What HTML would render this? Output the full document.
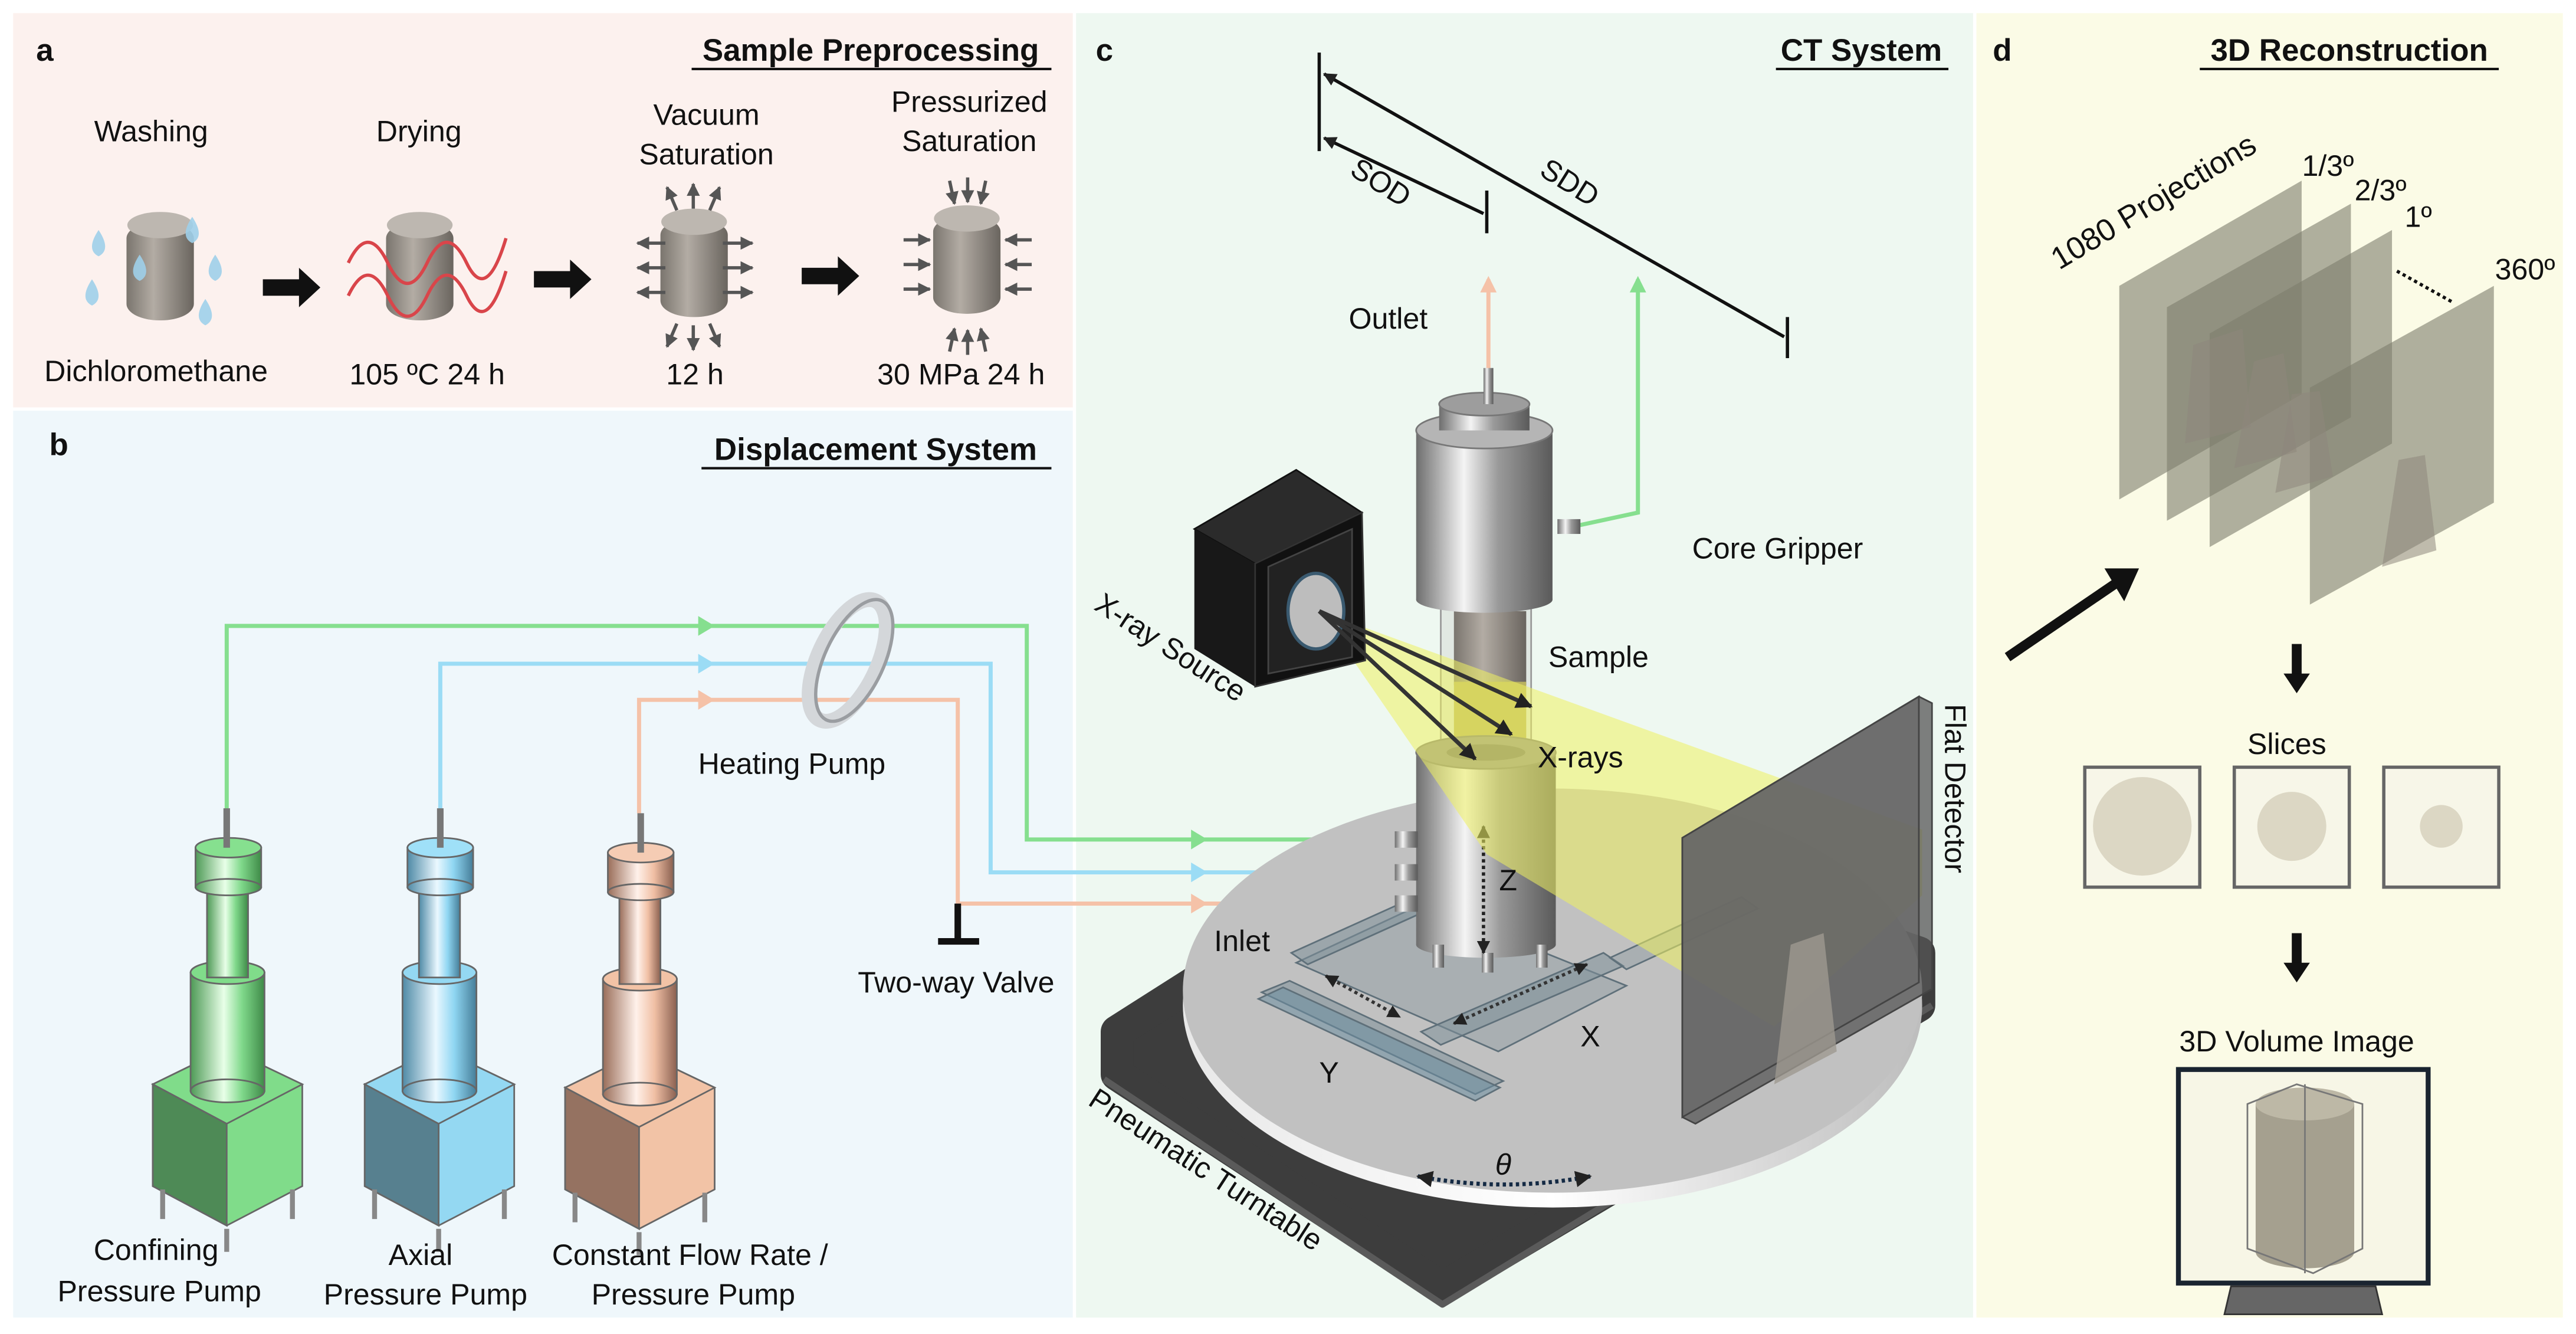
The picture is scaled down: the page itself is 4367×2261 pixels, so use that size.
<!DOCTYPE html>
<html><head><meta charset="utf-8"><style>
html,body{margin:0;padding:0;background:#fff;}
svg{display:block;}
text{font-family:"Liberation Sans",sans-serif;fill:#111;}
</style></head><body>
<svg width="4367" height="2261" viewBox="0 0 1568 812" preserveAspectRatio="none" xmlns="http://www.w3.org/2000/svg">
<defs>
<linearGradient id="metal" x1="0" x2="1"><stop offset="0" stop-color="#6e6e6e"/><stop offset=".35" stop-color="#f4f4f4"/><stop offset=".6" stop-color="#9a9a9a"/><stop offset="1" stop-color="#5a5a5a"/></linearGradient>
<linearGradient id="rock" x1="0" x2="1"><stop offset="0" stop-color="#7a756e"/><stop offset=".4" stop-color="#b3aca4"/><stop offset="1" stop-color="#6a655f"/></linearGradient>
<linearGradient id="gG" x1="0" x2="1"><stop offset="0" stop-color="#4e9a56"/><stop offset=".45" stop-color="#e8ffe8"/><stop offset=".7" stop-color="#7fd88a"/><stop offset="1" stop-color="#3f8a48"/></linearGradient>
<linearGradient id="gB" x1="0" x2="1"><stop offset="0" stop-color="#4f8aa6"/><stop offset=".45" stop-color="#eaf8ff"/><stop offset=".7" stop-color="#8fd6f2"/><stop offset="1" stop-color="#457d98"/></linearGradient>
<linearGradient id="gO" x1="0" x2="1"><stop offset="0" stop-color="#9a6e5a"/><stop offset=".45" stop-color="#fff1ea"/><stop offset=".7" stop-color="#f0bfa4"/><stop offset="1" stop-color="#8a6050"/></linearGradient>
<linearGradient id="rim" x1="0" x2="1"><stop offset="0" stop-color="#e8e8e8"/><stop offset=".5" stop-color="#ffffff"/><stop offset="1" stop-color="#bdbdbd"/></linearGradient>
<marker id="ah" viewBox="0 0 10 10" refX="9" refY="5" markerWidth="4" markerHeight="4" orient="auto-start-reverse"><path d="M0,0L10,5L0,10z" fill="#222"/></marker>
<marker id="ahg" viewBox="0 0 10 10" refX="9" refY="5" markerWidth="4" markerHeight="4" orient="auto"><path d="M0,0L10,5L0,10z" fill="#555"/></marker>
</defs>

<rect x="8" y="8" width="645" height="240" fill="#fcf1ee"/>
<rect x="8" y="250" width="645" height="552" fill="#eff7fb"/>
<rect x="655" y="8" width="546" height="794" fill="#eef8f1"/>
<rect x="1203" y="8" width="357" height="794" fill="#fbfbe6"/>

<!-- ===== Panel a ===== -->
<text x="22" y="37" font-size="19" font-weight="bold">a</text>
<text x="530" y="37" font-size="19" font-weight="bold" text-anchor="middle">Sample Preprocessing</text>
<line x1="421" y1="42" x2="640" y2="42" stroke="#111" stroke-width="1.5"/>
<g font-size="18" text-anchor="middle">
<text x="92" y="86">Washing</text>
<text x="255" y="86">Drying</text>
<text x="430" y="76">Vacuum</text><text x="430" y="100">Saturation</text>
<text x="590" y="68">Pressurized</text><text x="590" y="92">Saturation</text>
<text x="95" y="232">Dichloromethane</text>
<text x="260" y="234">105 ºC 24 h</text>
<text x="423" y="234">12 h</text>
<text x="585" y="234">30 MPa 24 h</text>
</g>
<g>
<rect x="77" y="135" width="41" height="60" rx="20" ry="10" fill="url(#rock)"/>
<ellipse cx="97.5" cy="137" rx="20" ry="8" fill="#bdb7b0"/>
<rect x="235" y="135" width="41" height="60" rx="20" ry="10" fill="url(#rock)"/>
<ellipse cx="255.5" cy="137" rx="20" ry="8" fill="#bdb7b0"/>
<rect x="402" y="133" width="41" height="60" rx="20" ry="10" fill="url(#rock)"/>
<ellipse cx="422.5" cy="135" rx="20" ry="8" fill="#bdb7b0"/>
<rect x="568" y="131" width="41" height="60" rx="20" ry="10" fill="url(#rock)"/>
<ellipse cx="588.5" cy="133" rx="20" ry="8" fill="#bdb7b0"/>
</g>
<g fill="#9fd0ea" opacity=".9">
<path d="M60,140 q-8,12 0,16 q8,-4 0,-16z"/><path d="M56,170 q-8,12 0,16 q8,-4 0,-16z"/>
<path d="M85,155 q-8,12 0,16 q8,-4 0,-16z"/><path d="M117,132 q-8,12 0,16 q8,-4 0,-16z"/>
<path d="M131,155 q-8,12 0,16 q8,-4 0,-16z"/><path d="M125,182 q-8,12 0,16 q8,-4 0,-16z"/>
</g>
<g fill="none" stroke="#d9454a" stroke-width="2">
<path d="M212,160 q12,-25 24,0 t24,0 t24,0 t24,-15"/>
<path d="M212,180 q12,-25 24,0 t24,0 t24,0 t24,-15"/>
</g>
<g fill="#111">
<path d="M160,170h22v-7l13,12l-13,12v-7h-22z"/>
<path d="M325,165h22v-7l13,12l-13,12v-7h-22z"/>
<path d="M488,163h22v-7l13,12l-13,12v-7h-22z"/>
</g>
<g stroke="#555" stroke-width="2" marker-end="url(#ahg)">
<line x1="405" y1="148" x2="388" y2="148"/><line x1="405" y1="163" x2="388" y2="163"/><line x1="405" y1="178" x2="388" y2="178"/>
<line x1="440" y1="148" x2="458" y2="148"/><line x1="440" y1="163" x2="458" y2="163"/><line x1="440" y1="178" x2="458" y2="178"/>
<line x1="412" y1="128" x2="406" y2="114"/><line x1="422" y1="127" x2="422" y2="112"/><line x1="432" y1="128" x2="438" y2="114"/>
<line x1="412" y1="197" x2="406" y2="211"/><line x1="422" y1="198" x2="422" y2="213"/><line x1="432" y1="197" x2="438" y2="211"/>
<line x1="550" y1="146" x2="566" y2="146"/><line x1="550" y1="161" x2="566" y2="161"/><line x1="550" y1="176" x2="566" y2="176"/>
<line x1="628" y1="146" x2="612" y2="146"/><line x1="628" y1="161" x2="612" y2="161"/><line x1="628" y1="176" x2="612" y2="176"/>
<line x1="578" y1="110" x2="581" y2="124"/><line x1="589" y1="108" x2="589" y2="123"/><line x1="600" y1="110" x2="597" y2="124"/>
<line x1="578" y1="214" x2="581" y2="200"/><line x1="589" y1="216" x2="589" y2="201"/><line x1="600" y1="214" x2="597" y2="200"/>
</g>

<!-- ===== Panel b ===== -->
<text x="30" y="277" font-size="19" font-weight="bold">b</text>
<text x="533" y="280" font-size="19" font-weight="bold" text-anchor="middle">Displacement System</text>
<line x1="427" y1="285" x2="640" y2="285" stroke="#111" stroke-width="1.5"/>

<g fill="none" stroke-width="2.5">
<path d="M138,495V381H625V511H855" stroke="#86df8f"/>
<path d="M268,495V404H603V531H855" stroke="#9bdcf5"/>
<path d="M389,495V426H583V550H855" stroke="#f5c2a8"/>
</g>
<g>
<path d="M425,375l10,6l-10,6z" fill="#86df8f"/><path d="M425,398l10,6l-10,6z" fill="#9bdcf5"/><path d="M425,420l10,6l-10,6z" fill="#f5c2a8"/>
<path d="M725,505l10,6l-10,6z" fill="#86df8f"/><path d="M725,525l10,6l-10,6z" fill="#9bdcf5"/><path d="M725,544l10,6l-10,6z" fill="#f5c2a8"/>
</g>
<ellipse cx="516" cy="402" rx="18" ry="40" transform="rotate(25 516 402)" fill="none" stroke="#d4d7da" stroke-width="9"/>
<ellipse cx="520" cy="402" rx="18" ry="40" transform="rotate(25 520 402)" fill="none" stroke="#9a9da1" stroke-width="2"/>
<text x="482" y="471" font-size="18" text-anchor="middle">Heating Pump</text>
<path d="M583,550V572" stroke="#111" stroke-width="4"/><path d="M571,573H596" stroke="#111" stroke-width="4"/>
<text x="582" y="604" font-size="18" text-anchor="middle">Two-way Valve</text>

<g>
<polygon points="93,660 138,638 184,660 184,722 138,746 93,722" fill="#80dc8a" stroke="#666"/>
<polygon points="93,660 138,684 138,746 93,722" fill="#4e8a56" stroke="#666"/>
<polygon points="93,660 138,638 184,660 138,684" fill="#80dc8a" stroke="#666"/>
<g stroke="#888" stroke-width="3"><line x1="99" y1="724" x2="99" y2="742"/><line x1="178" y1="724" x2="178" y2="742"/><line x1="138" y1="748" x2="138" y2="762"/></g>
<rect x="116" y="592" width="45" height="72" fill="url(#gG)" stroke="#666"/><ellipse cx="138.5" cy="664" rx="22.5" ry="7" fill="url(#gG)" stroke="#666"/><ellipse cx="138.5" cy="592" rx="22.5" ry="7" fill="#80dc8a" stroke="#666"/>
<rect x="126" y="540" width="25" height="55" fill="url(#gG)" stroke="#666"/>
<rect x="119" y="516" width="40" height="24" fill="url(#gG)" stroke="#666"/><ellipse cx="139" cy="540" rx="20" ry="5" fill="url(#gG)" stroke="#666"/><ellipse cx="139" cy="516" rx="20" ry="6" fill="#86e08f" stroke="#666"/>
<rect x="136" y="492" width="4" height="24" fill="#777"/>
</g>
<g>
<polygon points="222,660 267,638 313,660 313,722 267,746 222,722" fill="#94d8f2" stroke="#666"/>
<polygon points="222,660 267,684 267,746 222,722" fill="#57808f" stroke="#666"/>
<polygon points="222,660 267,638 313,660 267,684" fill="#94d8f2" stroke="#666"/>
<g stroke="#888" stroke-width="3"><line x1="228" y1="724" x2="228" y2="742"/><line x1="307" y1="724" x2="307" y2="742"/><line x1="267" y1="748" x2="267" y2="762"/></g>
<rect x="245" y="592" width="45" height="72" fill="url(#gB)" stroke="#666"/><ellipse cx="267.5" cy="664" rx="22.5" ry="7" fill="url(#gB)" stroke="#666"/><ellipse cx="267.5" cy="592" rx="22.5" ry="7" fill="#94d8f2" stroke="#666"/>
<rect x="255" y="540" width="25" height="55" fill="url(#gB)" stroke="#666"/>
<rect x="248" y="516" width="40" height="24" fill="url(#gB)" stroke="#666"/><ellipse cx="268" cy="540" rx="20" ry="5" fill="url(#gB)" stroke="#666"/><ellipse cx="268" cy="516" rx="20" ry="6" fill="#9fe0f8" stroke="#666"/>
<rect x="266" y="492" width="4" height="24" fill="#777"/>
</g>
<g>
<polygon points="344,662 389,640 435,662 435,724 389,748 344,724" fill="#f2c3a6" stroke="#666"/>
<polygon points="344,662 389,686 389,748 344,724" fill="#957261" stroke="#666"/>
<polygon points="344,662 389,640 435,662 389,686" fill="#f2c3a6" stroke="#666"/>
<g stroke="#888" stroke-width="3"><line x1="350" y1="726" x2="350" y2="744"/><line x1="429" y1="726" x2="429" y2="744"/><line x1="389" y1="750" x2="389" y2="764"/></g>
<rect x="367" y="596" width="45" height="70" fill="url(#gO)" stroke="#666"/><ellipse cx="389.5" cy="666" rx="22.5" ry="7" fill="url(#gO)" stroke="#666"/><ellipse cx="389.5" cy="596" rx="22.5" ry="7" fill="#f2c3a6" stroke="#666"/>
<rect x="377" y="543" width="25" height="56" fill="url(#gO)" stroke="#666"/>
<rect x="370" y="519" width="40" height="24" fill="url(#gO)" stroke="#666"/><ellipse cx="390" cy="543" rx="20" ry="5" fill="url(#gO)" stroke="#666"/><ellipse cx="390" cy="519" rx="20" ry="6" fill="#f5ccb4" stroke="#666"/>
<rect x="388" y="495" width="4" height="24" fill="#777"/>
</g>
<g font-size="18" text-anchor="middle">
<text x="95" y="767">Confining</text><text x="97" y="792">Pressure Pump</text>
<text x="256" y="770">Axial</text><text x="259" y="794">Pressure Pump</text>
<text x="420" y="770">Constant Flow Rate /</text><text x="422" y="794">Pressure Pump</text>
</g>

<!-- ===== Panel c ===== -->
<text x="667" y="37" font-size="19" font-weight="bold">c</text>
<text x="1133" y="37" font-size="19" font-weight="bold" text-anchor="middle">CT System</text>
<line x1="1081" y1="42" x2="1186" y2="42" stroke="#111" stroke-width="1.5"/>
<g stroke="#111" stroke-width="2">
<line x1="803" y1="32" x2="803" y2="92"/>
<line x1="905" y1="116" x2="905" y2="142"/>
<line x1="1088" y1="193" x2="1088" y2="218"/>
<line x1="806" y1="45" x2="1086" y2="205" marker-start="url(#ah)"/>
<line x1="806" y1="84" x2="903" y2="130" marker-start="url(#ah)"/>
</g>
<text x="840" y="117" font-size="18" text-anchor="middle" transform="rotate(32 840 112)">SOD</text>
<text x="955" y="117" font-size="18" text-anchor="middle" transform="rotate(32 955 112)">SDD</text>
<text x="845" y="200" font-size="18" text-anchor="middle">Outlet</text>
<line x1="906" y1="228" x2="906" y2="170" stroke="#f5c2a8" stroke-width="2.5"/><path d="M901,178l5,-10l5,10z" fill="#f5c2a8"/>
<path d="M960,320L997,312V170" fill="none" stroke="#86df8f" stroke-width="2.5"/><path d="M992,178l5,-10l5,10z" fill="#86df8f"/>
<text x="1082" y="340" font-size="18" text-anchor="middle">Core Gripper</text>

<!-- base -->
<polygon points="680,628 900,488 1168,580 1168,612 878,784 680,654" fill="#3d3d3d" stroke="#3d3d3d" stroke-width="20" stroke-linejoin="round"/>
<path d="M672,657 L878,794 L1176,612" fill="none" stroke="#5a5a5a" stroke-width="4" stroke-linejoin="round"/>
<!-- turntable -->
<ellipse cx="945" cy="612" rx="225" ry="123" fill="url(#rim)"/>
<ellipse cx="945" cy="603" rx="225" ry="123" fill="#c1c1c1"/>
<!-- stages -->
<g fill="#7e8f99" fill-opacity=".55" stroke="#5f707a" stroke-width="1">
<polygon points="789,586 866,550 990,600 912,640" fill-opacity=".35"/>
<polygon points="768,604 785,597 915,658 898,666"/>
<polygon points="766,608 781,601 913,662 898,670" fill="#6b8ea0"/>
<polygon points="865,628 976,580 988,588 877,636"/>
<polygon points="786,580 868,543 878,550 796,587"/>
<polygon points="980,583 1060,546 1070,553 990,590" fill-opacity=".35"/>
</g>
<line x1="807" y1="594" x2="852" y2="619" stroke="#333" stroke-width="2" stroke-dasharray="2 2" marker-start="url(#ah)" marker-end="url(#ah)"/>
<line x1="885" y1="623" x2="966" y2="587" stroke="#333" stroke-width="2" stroke-dasharray="2 2" marker-start="url(#ah)" marker-end="url(#ah)"/>
<path d="M863,716 Q916,726 968,716" fill="none" stroke="#142a44" stroke-width="2.5" stroke-dasharray="2 2" marker-start="url(#ah)" marker-end="url(#ah)"/>
<!-- cylinders -->
<rect x="877" y="362" width="55" height="100" fill="#d8ded8" fill-opacity=".6" stroke="#999"/>
<rect x="885" y="372" width="44" height="45" fill="url(#rock)"/>
<rect x="885" y="415" width="44" height="55" fill="#b9b260"/>
<rect x="862" y="262" width="83" height="103" fill="url(#metal)"/>
<ellipse cx="903.5" cy="365" rx="41.5" ry="8" fill="url(#metal)"/>
<ellipse cx="903.5" cy="262" rx="41.5" ry="11" fill="#b5b5b5" stroke="#777"/>
<rect x="876" y="246" width="55" height="16" fill="url(#metal)"/>
<ellipse cx="903.5" cy="246" rx="27.5" ry="7" fill="#9d9d9d" stroke="#777"/>
<rect x="903" y="224" width="6" height="22" fill="url(#metal)"/>
<rect x="948" y="316" width="14" height="9" fill="url(#metal)"/>
<rect x="862" y="458" width="85" height="117" fill="url(#metal)"/>
<ellipse cx="904.5" cy="575" rx="42.5" ry="8" fill="url(#metal)"/>
<ellipse cx="904.5" cy="458" rx="42.5" ry="10" fill="#8c8c8c" stroke="#777"/>
<ellipse cx="904.5" cy="458" rx="24" ry="5" fill="#6d6d6d"/>
<g fill="url(#metal)"><rect x="872" y="575" width="7" height="14"/><rect x="902" y="580" width="7" height="12"/><rect x="935" y="575" width="7" height="14"/>
<rect x="849" y="506" width="14" height="10"/><rect x="849" y="526" width="14" height="10"/><rect x="849" y="545" width="14" height="10"/></g>
<line x1="903" y1="503" x2="903" y2="580" stroke="#222" stroke-width="2" stroke-dasharray="2 2" marker-start="url(#ah)" marker-end="url(#ah)"/>
<!-- beam -->
<polygon points="803,372 1170,505 1170,545 1080,625 905,520" fill="#eef060" fill-opacity=".55"/>
<!-- detector -->
<polygon points="1024,510 1168,424 1176,428 1176,602 1032,684 1024,680" fill="#555" fill-opacity=".75" stroke="#444"/>
<polygon points="1024,510 1168,424 1168,598 1024,680" fill="#6a6a6a" fill-opacity=".75" stroke="#444"/>
<polygon points="1090,575 1110,568 1118,640 1080,660" fill="#9d9890" opacity=".8"/>
<!-- xray box -->
<polygon points="727,322 789,286 829,312 764,343" fill="#2b2b2b" stroke="#111"/>
<polygon points="727,322 764,343 764,418 727,395" fill="#181818"/>
<polygon points="764,343 829,312 831,402 764,418" fill="#111" stroke="#333"/>
<polygon points="772,345 823,322 823,400 772,410" fill="#222" stroke="#444"/>
<ellipse cx="801" cy="372" rx="17" ry="23" fill="#bdbdbd" stroke="#3a5a70" stroke-width="2"/>
<g stroke="#333" stroke-width="2.5" marker-end="url(#ah)">
<line x1="803" y1="372" x2="932" y2="430"/><line x1="803" y1="372" x2="920" y2="447"/><line x1="803" y1="372" x2="898" y2="462"/>
</g>
<text x="973" y="406" font-size="18" text-anchor="middle">Sample</text>
<text x="962" y="467" font-size="18" text-anchor="middle">X-rays</text>
<text x="918" y="542" font-size="18" text-anchor="middle">Z</text>
<text x="756" y="579" font-size="18" text-anchor="middle">Inlet</text>
<text x="968" y="637" font-size="18" text-anchor="middle">X</text>
<text x="809" y="659" font-size="18" text-anchor="middle">Y</text>
<text x="915" y="715" font-size="18" font-style="italic" text-anchor="middle">θ</text>
<text x="712" y="400" font-size="18" text-anchor="middle" transform="rotate(33 712 395)">X-ray Source</text>
<text x="1190" y="486" font-size="18" text-anchor="middle" transform="rotate(90 1190 480)">Flat Detector</text>
<text x="734" y="718" font-size="18" text-anchor="middle" transform="rotate(33 734 712)">Pneumatic Turntable</text>

<!-- ===== Panel d ===== -->
<text x="1213" y="37" font-size="19" font-weight="bold">d</text>
<text x="1430" y="37" font-size="19" font-weight="bold" text-anchor="middle">3D Reconstruction</text>
<line x1="1339" y1="42" x2="1521" y2="42" stroke="#111" stroke-width="1.5"/>
<text x="1311" y="129" font-size="19" text-anchor="middle" transform="rotate(-31 1311 123)">1080 Projections</text>
<text x="1417" y="107" font-size="18" text-anchor="middle">1/3º</text>
<text x="1449" y="122" font-size="18" text-anchor="middle">2/3º</text>
<text x="1472" y="138" font-size="18" text-anchor="middle">1º</text>
<text x="1537" y="170" font-size="18" text-anchor="middle">360º</text>
<line x1="1459" y1="165" x2="1493" y2="184" stroke="#111" stroke-width="2" stroke-dasharray="2 2"/>
<g fill="#7d7d6c" fill-opacity=".6">
<polygon points="1290,174 1401,110 1401,240 1290,304"/>
<polygon points="1319,187 1431,124 1431,254 1319,317"/>
<polygon points="1345,203 1456,140 1456,270 1345,333"/>
<polygon points="1406,236 1518,174 1518,306 1406,368"/>
</g>
<g fill="#8e877c" fill-opacity=".55">
<polygon points="1335,210 1365,200 1370,260 1330,270"/><polygon points="1372,220 1390,215 1398,275 1360,285"/>
<polygon points="1395,240 1412,238 1420,290 1385,300"/>
<polygon points="1460,280 1476,277 1483,335 1450,345"/>
</g>
<path d="M1222,400L1288,355" stroke="#111" stroke-width="6"/><path d="M1281,346L1302,346L1293,366z" fill="#111"/>
<path d="M1398,392V412" stroke="#111" stroke-width="6"/><path d="M1390,410h16l-8,12z" fill="#111"/>
<text x="1392" y="459" font-size="18" text-anchor="middle">Slices</text>
<g stroke="#666" stroke-width="2" fill="#f7f6e8">
<rect x="1269" y="467" width="70" height="73"/><rect x="1360" y="467" width="70" height="73"/><rect x="1451" y="467" width="70" height="73"/>
</g>
<circle cx="1304" cy="503" r="30" fill="#dcd7c4"/><circle cx="1395" cy="503" r="21" fill="#dcd7c4"/><circle cx="1486" cy="503" r="13" fill="#dcd7c4"/>
<path d="M1398,568V588" stroke="#111" stroke-width="6"/><path d="M1390,586h16l-8,12z" fill="#111"/>
<text x="1398" y="640" font-size="18" text-anchor="middle">3D Volume Image</text>
<rect x="1326" y="651" width="152" height="130" fill="#f7f6e6" stroke="#1a2430" stroke-width="3"/>
<polygon points="1358,783 1446,783 1450,800 1354,800" fill="#666" stroke="#333"/>
<rect x="1373" y="672" width="60" height="90" fill="#a5a08f"/>
<ellipse cx="1403" cy="672" rx="30" ry="10" fill="#bdb8a6"/><ellipse cx="1403" cy="762" rx="30" ry="10" fill="#a5a08f"/>
<polygon points="1368,672 1398,660 1438,672 1438,760 1408,775 1368,760" fill="none" stroke="#777" stroke-width="1"/>
<line x1="1403" y1="660" x2="1403" y2="775" stroke="#777" stroke-width="1"/>
</svg>
</body></html>
